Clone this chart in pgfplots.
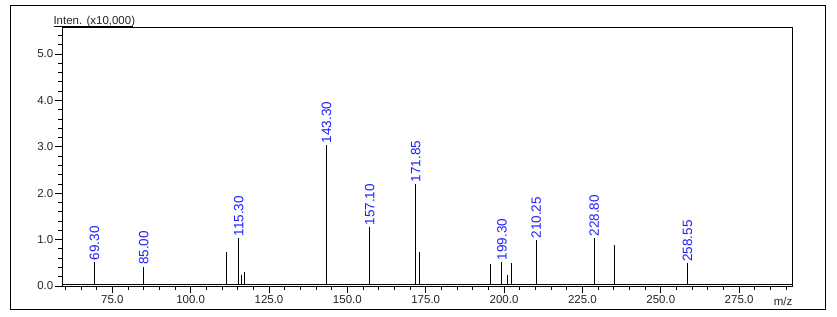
\documentclass[border=0pt]{standalone}
\usepackage{pgfplots}
\pgfplotsset{compat=1.18}
\usepackage{pgfplotstable}
\usepackage{fontspec}
\setmainfont{Liberation Sans}
\definecolor{peakblue}{RGB}{30,30,255}

\pgfplotstableread{
x y label
69.30 0.52 69.30
85.00 0.42 85.00
115.30 1.03 115.30
143.30 3.04 143.30
157.10 1.27 157.10
171.85 2.20 171.85
199.30 0.52 199.30
210.25 0.99 210.25
228.80 1.03 228.80
258.55 0.49 258.55
}\labeled

\pgfplotstableread{
x y
111.5 0.73
116.2 0.24
117.1 0.31
173.0 0.74
195.6 0.47
201.1 0.24
202.3 0.50
235.2 0.88
}\unlabeled

\begin{document}
\begin{tikzpicture}
\path[use as bounding box] (0pt,0pt) rectangle (837pt,316pt);
\draw[line width=1pt] (10pt,6.7pt) rectangle (825.3pt,310.7pt);
\begin{axis}[
  at={(62pt,30pt)}, anchor=south west,
  scale only axis, width=730.7pt, height=258pt,
  xmin=58.95, xmax=292.1, ymin=0, ymax=5.56,
  axis on top=true,
  axis line style={line width=1pt},
  xtick={75,100,...,275},
  minor xtick={60,65,...,290},
  ytick={0,1,2,3,4,5},
  minor ytick={0.2,0.4,0.6,0.8,1.2,1.4,1.6,1.8,2.2,2.4,2.6,2.8,3.2,3.4,3.6,3.8,4.2,4.4,4.6,4.8,5.2,5.4},
  xtick pos=bottom, ytick pos=left,
  tick align=outside,
  major tick length=7pt, minor tick length=3.6pt,
  every tick/.style={black, line width=0.8pt},
  /pgf/number format/.cd, fixed, fixed zerofill, precision=1, assume math mode=true,
  /pgfplots/.cd,
  ticklabel style={font=\fontsize{11.5}{13}\selectfont, text=black!85},
  yticklabel style={inner sep=1.5pt},
  xticklabel style={inner sep=2pt},
  scaled ticks=false,
]
\addplot[ycomb, black, line width=1pt, no marks,
  nodes near coords, point meta=explicit symbolic,
  every node near coord/.style={rotate=90, anchor=west, inner sep=1.2pt,
    font=\fontsize{13.5}{15}\selectfont, text=peakblue}]
  table[x=x, y=y, meta=label] {\labeled};
\addplot[ycomb, black, line width=1pt, no marks] table[x=x, y=y] {\unlabeled};
\fill[white] (axis cs:58.95,0.012) rectangle (axis cs:292.1,0.032);
\draw[line width=1pt] (axis cs:58.95,0.043) -- (axis cs:292.1,0.043);
\end{axis}
\node[anchor=west, inner sep=0pt, font=\fontsize{11.5}{13}\selectfont, text=black!85] at (53.3pt,294.3pt) {Inten. (x10,000)};
\draw[line width=0.8pt] (53.5pt,289.3pt) -- (133pt,289.3pt);
\node[inner sep=0pt, font=\fontsize{11.5}{13}\selectfont, text=black!85] at (783pt,15pt) {m/z};
\end{tikzpicture}
\end{document}
